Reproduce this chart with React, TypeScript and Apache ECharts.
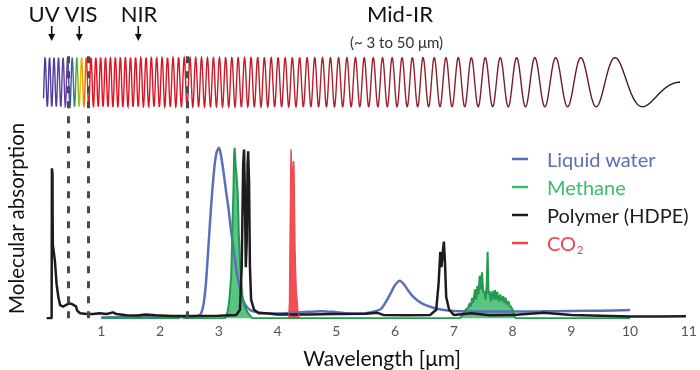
import React, { useEffect, useRef } from "react";
import * as echarts from "echarts";

const FONT = 'Lato, "Noto Sans", sans-serif';

// Region boundaries (µm) marked by dashed lines
const regionBounds = [0.44, 0.78, 2.47];
const regionNames = ["UV", "VIS", "NIR", "Mid-IR"];
const midIrRange = "(~ 3 to 50 μm)";
const xTitle = "Wavelength [μm]";
const yTitle = "Molecular absorption";

const seriesNames = ["Liquid water", "Methane", "Polymer (HDPE)", "CO2"];
const seriesColors = ["#5b6fba", "#3dba6f", "#1c1c1c", "#f0444c"];

// [wavelength µm, relative absorption]
const water: [number, number][] = [
  [1.0, 0.005], [1.5, 0.006], [2.0, 0.008], [2.5, 0.01], [2.65, 0.015], [2.7, 0.03],
  [2.74, 0.08], [2.78, 0.2], [2.82, 0.4], [2.87, 0.66], [2.92, 0.87], [2.96, 0.97],
  [3.0, 1.0], [3.03, 0.97], [3.08, 0.86], [3.13, 0.73], [3.17, 0.63], [3.2, 0.54],
  [3.23, 0.46], [3.27, 0.36], [3.31, 0.26], [3.36, 0.18], [3.4, 0.12], [3.45, 0.08],
  [3.51, 0.055], [3.6, 0.04], [3.8, 0.03], [4.0, 0.028], [4.3, 0.032], [4.5, 0.038],
  [4.75, 0.042], [5.0, 0.036], [5.3, 0.028], [5.5, 0.03], [5.65, 0.04], [5.76, 0.055],
  [5.85, 0.1], [5.93, 0.15], [6.0, 0.195], [6.08, 0.22], [6.15, 0.2], [6.22, 0.165],
  [6.3, 0.13], [6.4, 0.1], [6.5, 0.08], [6.65, 0.062], [6.8, 0.05], [7.0, 0.043],
  [7.5, 0.04], [8.0, 0.04], [8.5, 0.041], [9.0, 0.043], [9.5, 0.045], [10.0, 0.048],
];

const methane: [number, number][] = [
  [1.0, 0], [2.3, 0], [2.37, 0.01], [2.42, 0], [3.1, 0], [3.13, 0.01], [3.15, 0.04],
  [3.17, 0.08], [3.19, 0.15], [3.2, 0.2], [3.21, 0.24], [3.22, 0.36], [3.23, 0.5],
  [3.24, 0.64], [3.25, 0.75], [3.26, 0.96], [3.27, 1.0], [3.28, 0.94], [3.29, 0.88],
  [3.3, 0.85], [3.31, 0.8], [3.32, 0.75], [3.33, 0.65], [3.34, 0.5], [3.35, 0.42],
  [3.36, 0.33], [3.37, 0.28], [3.38, 0.22], [3.4, 0.14], [3.42, 0.09], [3.45, 0.06],
  [3.5, 0.03], [3.57, 0], [7.1, 0], [7.15, 0.02], [7.2, 0.05], [7.24, 0.06],
  [7.27, 0.09], [7.29, 0.07], [7.31, 0.12], [7.33, 0.09], [7.36, 0.17], [7.38, 0.11],
  [7.4, 0.19], [7.42, 0.14], [7.44, 0.25], [7.46, 0.17], [7.48, 0.27], [7.5, 0.15],
  [7.52, 0.16], [7.54, 0.11], [7.56, 0.2], [7.575, 0.39], [7.59, 0.14], [7.61, 0.16],
  [7.63, 0.1], [7.66, 0.16], [7.68, 0.11], [7.7, 0.165], [7.72, 0.11], [7.74, 0.155],
  [7.76, 0.1], [7.79, 0.14], [7.81, 0.1], [7.84, 0.13], [7.86, 0.09], [7.88, 0.12],
  [7.9, 0.08], [7.93, 0.1], [7.95, 0.07], [7.97, 0.07], [8.0, 0.05], [8.03, 0.01],
  [8.06, 0], [10.0, 0],
];

const hdpe: [number, number][] = [
  [0.07, 0], [0.155, 0], [0.16, 0.88], [0.17, 0.85], [0.172, 0.6], [0.176, 0.43],
  [0.21, 0.34], [0.24, 0.2], [0.27, 0.125], [0.3, 0.077], [0.35, 0.068], [0.41, 0.08],
  [0.47, 0.088], [0.52, 0.08], [0.57, 0.07], [0.59, 0.045], [0.64, 0.03], [0.75, 0.025],
  [0.86, 0.025], [0.97, 0.03], [1.09, 0.025], [1.2, 0.035], [1.26, 0.025], [1.43, 0.018],
  [1.6, 0.016], [1.76, 0.022], [1.93, 0.018], [2.2, 0.014], [2.6, 0.013], [3.0, 0.015],
  [3.3, 0.02], [3.36, 0.05], [3.39, 0.3], [3.415, 0.9], [3.43, 0.99], [3.445, 0.7],
  [3.46, 0.3], [3.475, 0.45], [3.49, 0.9], [3.5, 0.98], [3.515, 0.8], [3.53, 0.3],
  [3.55, 0.11], [3.6, 0.05], [3.68, 0.03], [3.8, 0.03], [4.0, 0.022], [4.5, 0.022],
  [5.0, 0.025], [5.5, 0.026], [5.7, 0.032], [5.8, 0.02], [6.2, 0.018], [6.6, 0.02],
  [6.7, 0.05], [6.74, 0.2], [6.77, 0.39], [6.79, 0.3], [6.83, 0.45], [6.85, 0.32],
  [6.87, 0.125], [6.92, 0.05], [7.0, 0.02], [7.3, 0.03], [7.6, 0.018], [8.0, 0.02],
  [8.53, 0.032], [9.0, 0.02], [9.5, 0.015], [10.0, 0.01], [10.5, 0.01], [10.95, 0.012],
];

const co2: [number, number][] = [
  [4.17, 0], [4.19, 0.01], [4.2, 0.1], [4.21, 0.45], [4.22, 0.85], [4.23, 0.99],
  [4.24, 0.9], [4.25, 0.83], [4.265, 0.92], [4.28, 0.92], [4.29, 0.7], [4.3, 0.4],
  [4.32, 0.17], [4.35, 0.04], [4.37, 0],
];

function buildWave(): number[][] {
  const pts: number[][] = [];
  const x0 = 43.5, xe = 680, a = 0.000356, cy = 82.2, amp = 24.5;
  for (let x = x0; x <= xe + 0.001; x += 0.25) {
    const phi = -Math.PI * a * (xe - x) * (xe - x);
    pts.push([x, cy - amp * Math.sin(phi)]);
  }
  return pts;
}

function arrow(x: number) {
  return [
    { type: "line", shape: { x1: x, y1: 26, x2: x, y2: 35 }, style: { stroke: "#111", lineWidth: 1.6 } },
    { type: "polygon", shape: { points: [[x - 3.5, 34], [x + 3.5, 34], [x, 41]] }, style: { fill: "#111" } },
  ];
}

export default function App() {
  const ref = useRef<HTMLDivElement>(null);
  useEffect(() => {
    if (!ref.current) return;
    const chart = echarts.init(ref.current, null, { renderer: "svg" });
    const waveGrad = new echarts.graphic.LinearGradient(0, 0, 1, 0, [
      { offset: 0, color: "#4a3a9a" },
      { offset: 0.026, color: "#5a3fa0" },
      { offset: 0.039, color: "#6a3fa8" },
      { offset: 0.0435, color: "#2a5aa8" },
      { offset: 0.048, color: "#1a8a7a" },
      { offset: 0.053, color: "#5ab030" },
      { offset: 0.058, color: "#e8c000" },
      { offset: 0.062, color: "#f59000" },
      { offset: 0.067, color: "#f04a10" },
      { offset: 0.072, color: "#e8101e" },
      { offset: 0.246, color: "#d01a28" },
      { offset: 0.48, color: "#a8202c" },
      { offset: 0.717, color: "#7a1e28" },
      { offset: 0.874, color: "#5a1c24" },
      { offset: 1, color: "#1a1a1a" },
    ]);
    const mkSeries = (i: number, data: [number, number][], extra: any) => ({
      name: seriesNames[i],
      type: "line",
      data,
      showSymbol: false,
      symbol: "none",
      color: seriesColors[i],
      ...extra,
    });
    const option: any = {
      animation: false,
      grid: { left: 42.5, right: 6.8, top: 49, bottom: 51.7 },
      xAxis: {
        type: "value",
        min: 0,
        max: 11,
        interval: 1,
        axisLine: { show: false },
        axisTick: { show: false },
        splitLine: { show: false },
        axisLabel: { showMinLabel: false, color: "#555", fontSize: 14, fontFamily: FONT, margin: 5 },
      },
      yAxis: {
        type: "value",
        min: 0,
        max: 1.58,
        axisLine: { show: false },
        axisTick: { show: false },
        splitLine: { show: false },
        axisLabel: { show: false },
      },
      legend: {
        orient: "vertical",
        left: 512,
        top: 149,
        padding: 0,
        itemWidth: 16,
        itemHeight: 2.5,
        itemGap: 8,
        icon: "rect",
        textStyle: {
          fontFamily: FONT,
          fontSize: 20,
          padding: [0, 0, 0, 14],
          rich: {
            n: { color: seriesColors[3], fontSize: 20, fontFamily: FONT },
            s: { color: seriesColors[3], fontSize: 11, fontFamily: FONT, padding: [12, 0, 0, 1] },
          },
        },
        formatter: (name: string) => (name === "CO2" ? "{n|CO}{s|2}" : name),
        data: seriesNames.map((n, i) => ({ name: n, textStyle: { color: seriesColors[i] } })),
      },
      series: [
        mkSeries(0, water, {
          smooth: 0.25,
          lineStyle: { color: seriesColors[0], width: 2.5 },
          markLine: {
            silent: true,
            symbol: "none",
            label: { show: false },
            lineStyle: { type: [7, 8], color: "#4a4a4a", width: 3 },
            data: regionBounds.map((v) => ({ xAxis: v })),
          },
        }),
        mkSeries(1, methane, {
          lineStyle: { color: "#239a50", width: 2 },
          areaStyle: { color: seriesColors[1], opacity: 0.85 },
        }),
        mkSeries(2, hdpe, {
          lineStyle: { color: seriesColors[2], width: 2.5 },
        }),
        mkSeries(3, co2, {
          lineStyle: { color: seriesColors[3], width: 1 },
          areaStyle: { color: seriesColors[3], opacity: 0.95 },
        }),
      ],
      graphic: [
        { type: "polyline", z: 1, shape: { points: buildWave() }, style: { stroke: waveGrad, fill: null, lineWidth: 1.4 } },
        { type: "text", x: 44, y: 13.5, style: { text: regionNames[0], fontSize: 22, fontFamily: FONT, fill: "#111", align: "center", verticalAlign: "middle" } },
        { type: "text", x: 81, y: 13.5, style: { text: regionNames[1], fontSize: 22, fontFamily: FONT, fill: "#111", align: "center", verticalAlign: "middle" } },
        { type: "text", x: 139, y: 13.5, style: { text: regionNames[2], fontSize: 22, fontFamily: FONT, fill: "#111", align: "center", verticalAlign: "middle" } },
        { type: "text", x: 400, y: 13.5, style: { text: regionNames[3], fontSize: 22, fontFamily: FONT, fill: "#111", align: "center", verticalAlign: "middle" } },
        { type: "text", x: 396.5, y: 42, style: { text: midIrRange, fontSize: 15, fontFamily: FONT, fill: "#333", align: "center", verticalAlign: "middle" } },
        ...arrow(51.7),
        ...arrow(79.3),
        ...arrow(138.3),
        { type: "text", x: 382, y: 357, style: { text: xTitle, fontSize: 21, fontFamily: FONT, fill: "#111", align: "center", verticalAlign: "middle" } },
        { type: "text", x: 15.5, y: 218.3, rotation: Math.PI / 2, style: { text: yTitle, fontSize: 20.5, fontFamily: FONT, fill: "#111", align: "center", verticalAlign: "middle" } },
      ],
    };
    chart.setOption(option);
    return () => chart.dispose();
  }, []);
  return <div ref={ref} style={{ position: "fixed", left: 0, top: 0, width: 700, height: 370 }} />;
}
